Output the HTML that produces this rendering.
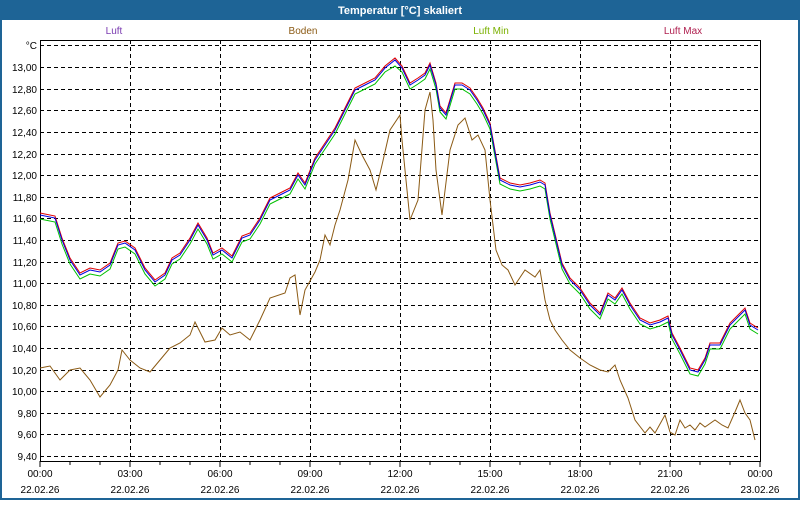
<!DOCTYPE html>
<html><head><style>
body{margin:0;width:800px;height:500px;overflow:hidden;background:#fff;font-family:"Liberation Sans",sans-serif}
</style></head><body>
<svg width="800" height="500" xmlns="http://www.w3.org/2000/svg" font-family="Liberation Sans, sans-serif" font-size="10">
<rect x="0" y="0" width="800" height="500" fill="#1e6496"/>
<rect x="2" y="20" width="796" height="478" fill="#fff"/>
<text x="400" y="14" fill="#fff" font-weight="bold" font-size="11" text-anchor="middle">Temperatur [°C] skaliert</text>
<text x="114" y="34" fill="#7a3ab0" text-anchor="middle">Luft</text>
<text x="303" y="34" fill="#8b5a14" text-anchor="middle">Boden</text>
<text x="491" y="34" fill="#7ab000" text-anchor="middle">Luft Min</text>
<text x="683" y="34" fill="#b02050" text-anchor="middle">Luft Max</text>
<g stroke="#000" stroke-dasharray="4,3" stroke-width="1">
<line x1="40" y1="45.5" x2="760" y2="45.5"/>
<line x1="40" y1="67.5" x2="760" y2="67.5"/><line x1="40" y1="89.5" x2="760" y2="89.5"/><line x1="40" y1="110.5" x2="760" y2="110.5"/><line x1="40" y1="132.5" x2="760" y2="132.5"/><line x1="40" y1="154.5" x2="760" y2="154.5"/><line x1="40" y1="175.5" x2="760" y2="175.5"/><line x1="40" y1="197.5" x2="760" y2="197.5"/><line x1="40" y1="218.5" x2="760" y2="218.5"/><line x1="40" y1="240.5" x2="760" y2="240.5"/><line x1="40" y1="262.5" x2="760" y2="262.5"/><line x1="40" y1="283.5" x2="760" y2="283.5"/><line x1="40" y1="305.5" x2="760" y2="305.5"/><line x1="40" y1="326.5" x2="760" y2="326.5"/><line x1="40" y1="348.5" x2="760" y2="348.5"/><line x1="40" y1="370.5" x2="760" y2="370.5"/><line x1="40" y1="391.5" x2="760" y2="391.5"/><line x1="40" y1="413.5" x2="760" y2="413.5"/><line x1="40" y1="434.5" x2="760" y2="434.5"/><line x1="40" y1="456.5" x2="760" y2="456.5"/>
<line x1="130.5" y1="40" x2="130.5" y2="461"/><line x1="220.5" y1="40" x2="220.5" y2="461"/><line x1="310.5" y1="40" x2="310.5" y2="461"/><line x1="400.5" y1="40" x2="400.5" y2="461"/><line x1="490.5" y1="40" x2="490.5" y2="461"/><line x1="580.5" y1="40" x2="580.5" y2="461"/><line x1="670.5" y1="40" x2="670.5" y2="461"/>
</g>
<rect x="40.5" y="40.5" width="720" height="421" fill="none" stroke="#000"/>
<g stroke="#000">
<path d="M40 461v6M70 461v4M100 461v4M130 461v6M160 461v4M190 461v4M220 461v6M250 461v4M280 461v4M310 461v6M340 461v4M370 461v4M400 461v6M430 461v4M460 461v4M490 461v6M520 461v4M550 461v4M580 461v6M610 461v4M640 461v4M670 461v6M700 461v4M730 461v4M760 461v6"/>
</g>
<g fill="#000" text-anchor="end">
<text x="37" y="49">°C</text>
<text x="37" y="71">13,00</text><text x="37" y="93">12,80</text><text x="37" y="114">12,60</text><text x="37" y="136">12,40</text><text x="37" y="158">12,20</text><text x="37" y="179">12,00</text><text x="37" y="201">11,80</text><text x="37" y="222">11,60</text><text x="37" y="244">11,40</text><text x="37" y="266">11,20</text><text x="37" y="287">11,00</text><text x="37" y="309">10,80</text><text x="37" y="330">10,60</text><text x="37" y="352">10,40</text><text x="37" y="374">10,20</text><text x="37" y="395">10,00</text><text x="37" y="417">9,80</text><text x="37" y="438">9,60</text><text x="37" y="460">9,40</text>
</g>
<g fill="#000" text-anchor="middle">
<text x="40" y="477">00:00</text><text x="130" y="477">03:00</text><text x="220" y="477">06:00</text><text x="310" y="477">09:00</text><text x="400" y="477">12:00</text><text x="490" y="477">15:00</text><text x="580" y="477">18:00</text><text x="670" y="477">21:00</text><text x="760" y="477">00:00</text>
<text x="40" y="493">22.02.26</text><text x="130" y="493">22.02.26</text><text x="220" y="493">22.02.26</text><text x="310" y="493">22.02.26</text><text x="400" y="493">22.02.26</text><text x="490" y="493">22.02.26</text><text x="580" y="493">22.02.26</text><text x="670" y="493">22.02.26</text><text x="760" y="493">23.02.26</text>
</g>
<polyline fill="none" stroke="#8b5a14" stroke-width="1" points="40,368 50,366 60,380 70,370 80,368 90,380 100,397 110,385 118,370 122,350 130,360 140,368 150,372 160,360 170,348 180,343 190,335 195,322 205,342 215,340 222,328 230,335 240,332 250,340 260,320 270,298 285,293 290,278 295,275 300,315 305,290 315,272 320,260 325,235 330,245 335,225 340,210 348,180 355,140 362,155 370,170 376,190 382,165 390,130 400,115 402,140 410,220 418,200 425,110 430,92 433,120 436,170 442,215 450,150 458,125 465,118 472,140 478,135 485,150 490,200 496,250 502,265 508,270 515,285 525,270 535,277 540,270 545,300 550,320 555,330 562,340 570,350 580,358 590,365 600,370 608,372 615,365 620,380 628,398 635,420 645,433 650,427 655,433 665,415 670,432 675,435 680,420 685,428 690,425 695,430 700,423 705,427 715,420 722,425 728,428 735,412 740,400 745,413 750,420 755,440"/>
<g fill="none" stroke-width="1">
<polyline stroke="#00c000" transform="translate(0,4)" points="40,215 55,218 62,240 70,260 80,275 90,270 100,272 110,265 118,245 125,243 135,250 145,270 155,282 165,275 172,260 180,255 190,240 198,225 207,240 213,255 222,250 232,258 242,238 250,235 260,220 270,200 280,195 290,190 298,175 305,185 315,160 325,145 335,130 345,110 355,90 365,85 375,80 385,68 395,62 402,68 410,85 418,80 425,75 430,65 436,85 440,108 446,115 455,85 462,85 470,90 477,100 483,110 490,125 500,180 510,185 520,187 530,185 540,182 545,185 550,215 556,240 562,265 570,280 580,290 590,305 600,315 608,295 615,300 622,290 630,305 640,320 650,325 660,322 668,318 672,335 680,350 690,370 698,372 705,360 710,345 720,345 730,325 740,315 745,310 750,325 758,330"/>
<polyline stroke="#e00000" transform="translate(0,-2)" points="40,215 55,218 62,240 70,260 80,275 90,270 100,272 110,265 118,245 125,243 135,250 145,270 155,282 165,275 172,260 180,255 190,240 198,225 207,240 213,255 222,250 232,258 242,238 250,235 260,220 270,200 280,195 290,190 298,175 305,185 315,160 325,145 335,130 345,110 355,90 365,85 375,80 385,68 395,60 402,68 410,85 418,80 425,75 430,65 436,85 440,108 446,115 455,85 462,85 470,90 477,100 483,110 490,125 500,180 510,185 520,187 530,185 540,182 545,185 550,215 556,240 562,265 570,280 580,290 590,305 600,315 608,295 615,300 622,290 630,305 640,320 650,325 660,322 668,318 672,335 680,350 690,370 698,372 705,360 710,345 720,345 730,325 740,315 745,310 750,325 758,330"/>
<polyline stroke="#0000e0" points="40,215 55,218 62,240 70,260 80,275 90,270 100,272 110,265 118,245 125,243 135,250 145,270 155,282 165,275 172,260 180,255 190,240 198,225 207,240 213,255 222,250 232,258 242,238 250,235 260,220 270,200 280,195 290,190 298,175 305,185 315,160 325,145 335,130 345,110 355,90 365,85 375,80 385,68 395,60 402,68 410,85 418,80 425,75 430,65 436,85 440,108 446,115 455,85 462,85 470,90 477,100 483,110 490,125 500,180 510,185 520,187 530,185 540,182 545,185 550,215 556,240 562,265 570,280 580,290 590,305 600,315 608,295 615,300 622,290 630,305 640,320 650,325 660,322 668,318 672,335 680,350 690,370 698,372 705,360 710,345 720,345 730,325 740,315 745,310 750,325 758,330"/>
</g>
</svg>
</body></html>
